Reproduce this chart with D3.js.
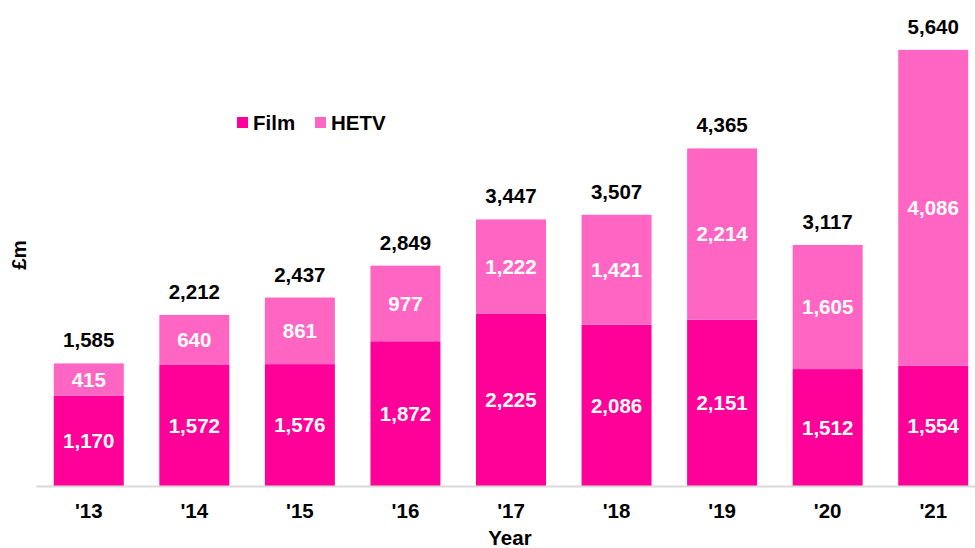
<!DOCTYPE html>
<html>
<head>
<meta charset="utf-8">
<script src="https://cdn.jsdelivr.net/npm/d3@7"></script>
<style>
	body { margin: 0; background: #fff; }
	svg { display: block; font-family: "Liberation Sans", Arial, sans-serif; font-weight: bold; }
</style>
</head>
<body>
<div id="chart"></div>
<script>
'use strict';

// data
var years	= ["'13", "'14", "'15", "'16", "'17", "'18", "'19", "'20", "'21"];
var film	= [1170, 1572, 1576, 1872, 2225, 2086, 2151, 1512, 1554];
var hetv	= [415, 640, 861, 977, 1222, 1421, 2214, 1605, 4086];
var totals	= [1585, 2212, 2437, 2849, 3447, 3507, 4365, 3117, 5640];
var seriesNames = ['Film', 'HETV'];

var colors = { Film: '#ff0099', HETV: '#ff66c4' };

var W = 975, H = 548;
var margin = { top: 22, right: -11, bottom: 62, left: 36 };
var fontSize = '20.5px';

var svg = d3.select('#chart').append('svg')
	.attr('width', W)
	.attr('height', H);

var x = d3.scaleBand()
	.domain(years)
	.range([margin.left, W - margin.right])
	.paddingInner(0.337)
	.paddingOuter(0.1685);

var y = d3.scaleLinear()
	.domain([0, 6000])
	.range([H - margin.bottom, margin.top]);

// stacked rows
var rows = years.map(function(yr, i){
	return { year: yr, Film: film[i], HETV: hetv[i], total: totals[i] };
});
var stack = d3.stack().keys(seriesNames)(rows);

var layers = svg.selectAll('g.layer')
	.data(stack)
	.enter()
	.append('g')
	.attr('class', 'layer')
	.attr('fill', function(d){ return colors[d.key]; });

layers.selectAll('rect')
	.data(function(d){ return d; })
	.enter()
	.append('rect')
	.attr('x', function(d){ return x(d.data.year); })
	.attr('y', function(d){ return y(d[1]); })
	.attr('width', x.bandwidth())
	.attr('height', function(d){ return y(d[0]) - y(d[1]); });

// segment labels
layers.selectAll('text')
	.data(function(d){ return d; })
	.enter()
	.append('text')
	.attr('x', function(d){ return x(d.data.year) + x.bandwidth() / 2; })
	.attr('y', function(d){ return (y(d[0]) + y(d[1])) / 2; })
	.attr('dy', '0.36em')
	.attr('text-anchor', 'middle')
	.attr('fill', '#fff')
	.style('font-size', fontSize)
	.text(function(d){ return d3.format(',')(d[1] - d[0]); });

// totals
svg.selectAll('text.total')
	.data(rows)
	.enter()
	.append('text')
	.attr('class', 'total')
	.attr('x', function(d){ return x(d.year) + x.bandwidth() / 2; })
	.attr('y', function(d){ return y(d.total) - 16; })
	.attr('text-anchor', 'middle')
	.attr('fill', '#000')
	.style('font-size', fontSize)
	.text(function(d){ return d3.format(',')(d.total); });

// x axis
var xAxis = svg.append('g')
	.attr('transform', 'translate(0,' + y(0) + ')')
	.call(d3.axisBottom(x).tickSize(0).tickPadding(17));
xAxis.select('.domain').attr('stroke', '#d9d9d9').attr('stroke-width', 2);
xAxis.selectAll('text')
	.style('font-size', fontSize)
	.style('font-family', '"Liberation Sans", Arial, sans-serif')
	.style('font-weight', 'bold')
	.attr('fill', '#000');

// axis titles
svg.append('text')
	.attr('x', 510)
	.attr('y', 545)
	.attr('text-anchor', 'middle')
	.style('font-size', fontSize)
	.text('Year');

svg.append('text')
	.attr('transform', 'translate(26,255) rotate(-90)')
	.attr('text-anchor', 'middle')
	.style('font-size', fontSize)
	.text('£m');

// legend
var legend = svg.append('g').attr('transform', 'translate(237,117)');
var lx = [0, 78];
seriesNames.forEach(function(name, i){
	legend.append('rect')
		.attr('x', lx[i])
		.attr('y', 0)
		.attr('width', 11)
		.attr('height', 11)
		.attr('fill', colors[name]);
	legend.append('text')
		.attr('x', lx[i] + 16)
		.attr('y', 6)
		.attr('dy', '0.36em')
		.style('font-size', fontSize)
		.text(name);
});
</script>
</body>
</html>
